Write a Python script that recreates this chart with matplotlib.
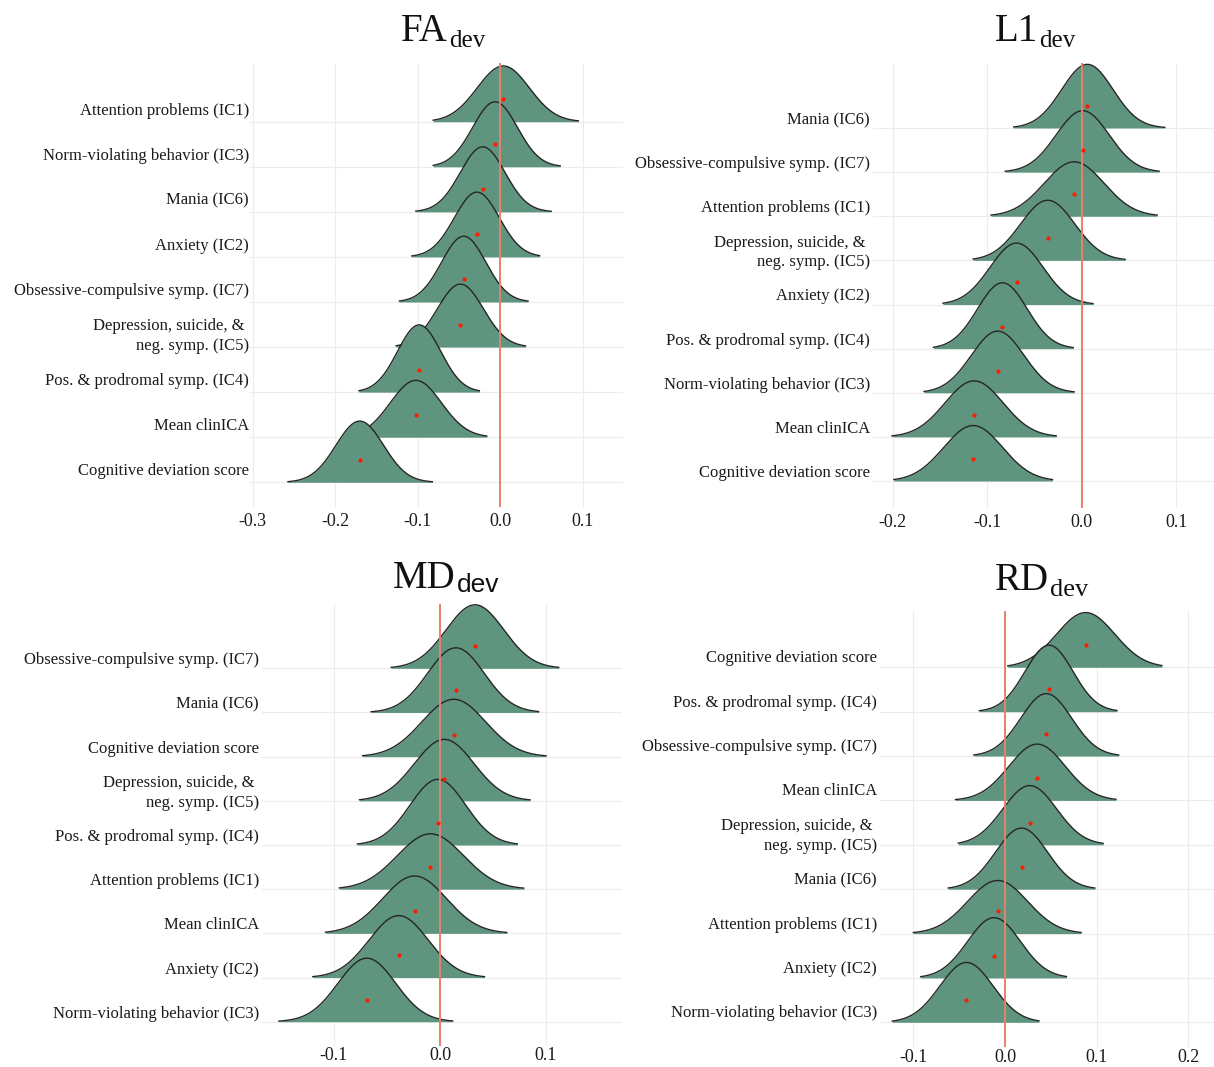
import numpy as np
import matplotlib
matplotlib.use("Agg")
import matplotlib.pyplot as plt
from matplotlib import transforms

plt.rcParams['axes.unicode_minus'] = False
SERIF = 'Liberation Serif'
SANS = 'Liberation Sans'

DEP = "Depression, suicide, & \nneg. symp. (IC5)"

# ---------------- data ----------------
# FA_dev, listed top -> bottom
fa_labels = ["Attention problems (IC1)", "Norm-violating behavior (IC3)", "Mania (IC6)",
             "Anxiety (IC2)", "Obsessive-compulsive symp. (IC7)", DEP,
             "Pos. & prodromal symp. (IC4)", "Mean clinICA", "Cognitive deviation score"]
fa_mean = [0.004, -0.006, -0.021, -0.028, -0.044, -0.048, -0.098, -0.102, -0.170]
fa_sd = [0.0316, 0.0271, 0.0271, 0.0272, 0.0268, 0.0280, 0.0262, 0.0310, 0.0288]
fa_lo = [-0.081, -0.081, -0.102, -0.107, -0.122, -0.126, -0.171, -0.188, -0.257]
fa_hi = [0.095, 0.073, 0.062, 0.048, 0.034, 0.031, -0.025, -0.016, -0.082]
fa_ticks = [-0.3, -0.2, -0.1, 0.0, 0.1]

# L1_dev
l1_labels = ["Mania (IC6)", "Obsessive-compulsive symp. (IC7)", "Attention problems (IC1)",
             DEP, "Anxiety (IC2)", "Pos. & prodromal symp. (IC4)",
             "Norm-violating behavior (IC3)", "Mean clinICA", "Cognitive deviation score"]
l1_mean = [0.006, 0.001, -0.008, -0.036, -0.069, -0.084, -0.089, -0.114, -0.115]
l1_sd = [0.0271, 0.0281, 0.0317, 0.0287, 0.0281, 0.0262, 0.0280, 0.0308, 0.0311]
l1_lo = [-0.072, -0.081, -0.096, -0.115, -0.147, -0.157, -0.167, -0.201, -0.199]
l1_hi = [0.088, 0.082, 0.080, 0.046, 0.012, -0.009, -0.008, -0.027, -0.031]
l1_ticks = [-0.2, -0.1, 0.0, 0.1]

# MD_dev
md_labels = ["Obsessive-compulsive symp. (IC7)", "Mania (IC6)", "Cognitive deviation score",
             DEP, "Pos. & prodromal symp. (IC4)", "Attention problems (IC1)",
             "Mean clinICA", "Anxiety (IC2)", "Norm-violating behavior (IC3)"]
md_mean = [0.033, 0.015, 0.013, 0.004, -0.002, -0.009, -0.024, -0.039, -0.069]
md_sd = [0.0272, 0.0267, 0.0301, 0.0281, 0.0263, 0.0312, 0.0301, 0.0279, 0.0272]
md_lo = [-0.046, -0.065, -0.073, -0.076, -0.078, -0.095, -0.108, -0.120, -0.152]
md_hi = [0.112, 0.093, 0.100, 0.085, 0.073, 0.079, 0.063, 0.042, 0.012]
md_ticks = [-0.1, 0.0, 0.1]

# RD_dev
rd_labels = ["Cognitive deviation score", "Pos. & prodromal symp. (IC4)",
             "Obsessive-compulsive symp. (IC7)", "Mean clinICA", DEP, "Mania (IC6)",
             "Attention problems (IC1)", "Anxiety (IC2)", "Norm-violating behavior (IC3)"]
rd_mean = [0.088, 0.048, 0.045, 0.035, 0.027, 0.018, -0.008, -0.012, -0.042]
rd_sd = [0.0317, 0.0261, 0.0278, 0.0308, 0.0293, 0.0284, 0.0327, 0.0288, 0.0290]
rd_lo = [0.003, -0.028, -0.034, -0.054, -0.051, -0.062, -0.100, -0.092, -0.123]
rd_hi = [0.171, 0.122, 0.124, 0.121, 0.107, 0.098, 0.083, 0.067, 0.037]
rd_ticks = [-0.1, 0.0, 0.1, 0.2]

# ---------------- layout / style ----------------
W, H = 1214, 1067
FILL = '#5f957f'
EDGE = '#262626'
RED = '#e8806c'
DOT = '#ff1a00'
GRID = '#ececec'
SCALE = 0.098  # density height scale (in category-spacing units)

panels = [
    dict(main='FA', subfam=SERIF, subsize=18, labels=fa_labels, mean=fa_mean, sd=fa_sd,
         lo=fa_lo, hi=fa_hi, ticks=fa_ticks,
         px=(250, 623, 63, 507), base=(121.7, 482.3), zero=500, ppu=825,
         tickpad=4.5, lab_off=11, lab_pad=1, title=(448, 41, 47)),
    dict(main='L1', subfam=SERIF, subsize=18, labels=l1_labels, mean=l1_mean, sd=l1_sd,
         lo=l1_lo, hi=l1_hi, ticks=l1_ticks,
         px=(873, 1214, 63, 508), base=(128.0, 481.0), zero=1081.7, ppu=944,
         tickpad=4.0, lab_off=8, lab_pad=3, title=(1038, 41, 47)),
    dict(main='MD', subfam=SANS, subsize=19, labels=md_labels, mean=md_mean, sd=md_sd,
         lo=md_lo, hi=md_hi, ticks=md_ticks,
         px=(262, 622, 604, 1046), base=(668.3, 1021.7), zero=440, ppu=1060,
         tickpad=0.5, lab_off=8, lab_pad=3, title=(456, 588, 592)),
    dict(main='RD', subfam=SERIF, subsize=19, labels=rd_labels, mean=rd_mean, sd=rd_sd,
         lo=rd_lo, hi=rd_hi, ticks=rd_ticks,
         px=(880, 1214, 611, 1047), base=(667.3, 1022.3), zero=1005, ppu=917,
         tickpad=1.5, lab_off=9, lab_pad=3, title=(1049, 590, 596)),
]

fig = plt.figure(figsize=(W / 100, H / 100), dpi=100)
fig.patch.set_facecolor('white')

for p in panels:
    left, right, top, bottom = p['px']
    btop, bbot = p['base']
    n = len(p['labels'])
    spacing = (bbot - btop) / (n - 1)
    ax = fig.add_axes([left / W, 1 - bottom / H, (right - left) / W, (bottom - top) / H])
    ax.set_xlim((left - p['zero']) / p['ppu'], (right - p['zero']) / p['ppu'])
    ax.set_ylim((bbot - bottom) / spacing, (n - 1) + (btop - top) / spacing)
    for s in ax.spines.values():
        s.set_visible(False)
    ax.set_yticks([])
    ax.set_xticks(p['ticks'])
    ax.set_xticklabels(['%.1f' % t for t in p['ticks']], fontsize=13, family=SERIF,
                       color='#1a1a1a')
    ax.tick_params(axis='x', length=0, pad=p['tickpad'])
    # grid
    for t in p['ticks']:
        ax.axvline(t, color=GRID, lw=0.8, zorder=0)
    for i in range(n):
        ax.axhline(n - 1 - i, color=GRID, lw=0.8, zorder=0)

    # ridges: top category first, lower ones drawn over
    for i in range(n):
        yb = n - 1 - i
        m, sd, lo, hi = p['mean'][i], p['sd'][i], p['lo'][i], p['hi'][i]
        xs = np.linspace(lo, hi, 300)
        dens = SCALE * np.exp(-0.5 * ((xs - m) / sd) ** 2) / (sd * np.sqrt(2 * np.pi))
        z = 2 + i
        ax.fill_between(xs, yb, yb + dens, color=FILL, lw=0, zorder=z, clip_on=False)
        ax.plot(xs, yb + dens, color=EDGE, lw=1.0, zorder=z + 0.1, clip_on=False)

    ax.axvline(0.0, color=RED, lw=1.4, zorder=30)
    for i in range(n):
        ax.plot(p['mean'][i], n - 1 - i + 0.5, 'o', color=DOT, ms=3.0, mec='none', zorder=31)

    # category labels (sit slightly above the baselines)
    base_tr = transforms.blended_transform_factory(ax.transAxes, ax.transData)
    tr = transforms.offset_copy(base_tr, fig=fig, x=-p['lab_pad'], y=p['lab_off'], units='dots')
    for i, lab in enumerate(p['labels']):
        ax.text(0, n - 1 - i, lab, transform=tr, ha='right', va='center', fontsize=12,
                family=SERIF, color='#1a1a1a', multialignment='right', linespacing=1.3)

    # title with subscript
    xs_, yb_, ys_ = p['title']
    fig.text(xs_ / W, 1 - yb_ / H, p['main'], ha='right', va='baseline', fontsize=28,
             family=SERIF, color='#111111')
    fig.text(xs_ / W + 1 / W, 1 - ys_ / H, 'dev', ha='left', va='baseline',
             fontsize=p['subsize'], family=p['subfam'], color='#111111')

fig.savefig('out.png', dpi=100, facecolor='white')
